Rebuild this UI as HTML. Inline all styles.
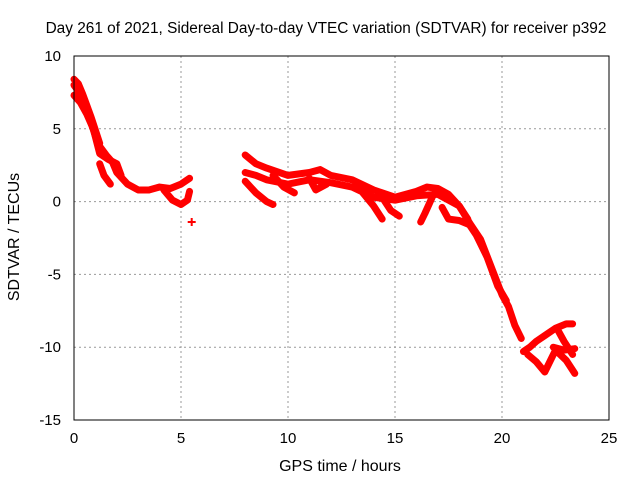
<!DOCTYPE html>
<html><head><meta charset="utf-8"><style>
body{margin:0;background:#fff;}
svg{display:block;font-family:"Liberation Sans",sans-serif;}
</style></head><body>
<svg id="chart" width="640" height="480">
<g id="grid"></g>
<g id="series"></g>
<rect x="74" y="56" width="535" height="364" fill="none" stroke="#000" stroke-width="1"/>
<g id="ticks"></g>
<text x="326" y="33" text-anchor="middle" font-size="15.4">Day 261 of 2021, Sidereal Day-to-day VTEC variation (SDTVAR) for receiver p392</text>
<text x="340" y="471" text-anchor="middle" font-size="16">GPS time / hours</text>
<text transform="translate(19,237) rotate(-90)" text-anchor="middle" font-size="16">SDTVAR / TECUs</text>
</svg>
<script>
const xTicks=[0,5,10,15,20,25];
const yTicks=[10,5,0,-5,-10,-15];
const trackMainX=[0,0.2,0.4,0.6,0.8,1.0,1.2,1.5,1.8,2.0,2.5,3,3.5,4,4.5,5,5.4];
const trackMainY=[8.0,7.6,6.9,6.2,5.4,4.5,3.8,3.2,2.7,2.0,1.2,0.8,0.8,1.0,0.9,1.2,1.6];
const trackA1X=[0,0.2,0.4,0.6,0.8,1.0,1.2];
const trackA1Y=[8.4,8.1,7.4,6.6,5.8,4.9,4.0];
const trackA2X=[0,0.3,0.6,0.9,1.2,1.6,2.0,2.2];
const trackA2Y=[7.3,6.8,6.0,5.0,3.3,2.9,2.6,1.8];
const trackA3X=[1.2,1.4,1.7];
const trackA3Y=[2.6,1.8,1.2];
const trackA4X=[4.2,4.6,5.0,5.3,5.4];
const trackA4Y=[0.8,0.1,-0.2,0.1,0.7];
const trackBX=[8,8.5,9,10,11,12,13,14,15,16,17,18,18.5,19,19.5,20,20.3,20.6,20.9];
const trackBY=[2.0,1.8,1.5,1.2,1.5,1.3,1.0,0.3,0.1,0.4,0.5,-0.3,-1.5,-2.6,-4.5,-6.4,-7.2,-8.5,-9.4];
const trackB1X=[18.3,18.8,19.3,19.8,20.2];
const trackB1Y=[-1.2,-2.3,-3.8,-5.8,-6.8];
const trackB2X=[8,8.5,9,10,11,11.5,12,13,14,15,16,16.5,17,17.5,18,18.4];
const trackB2Y=[3.2,2.6,2.3,1.8,2.0,2.2,1.8,1.5,0.8,0.3,0.7,1.0,0.9,0.5,-0.3,-1.2];
const trackB3X=[8,8.5,9,9.3];
const trackB3Y=[1.4,0.6,0.0,-0.2];
const trackB4X=[9.3,9.8,10.3];
const trackB4Y=[1.8,1.0,0.6];
const trackB5X=[11,11.3,11.8];
const trackB5Y=[1.6,0.8,1.2];
const trackB6X=[13.5,14.0,14.4];
const trackB6Y=[0.6,-0.3,-1.2];
const trackB7X=[14.4,14.8,15.2];
const trackB7Y=[0.3,-0.6,-1.0];
const trackB8X=[16.8,16.4,16.2];
const trackB8Y=[0.5,-0.8,-1.4];
const trackB9X=[17.2,17.5,18,18.5];
const trackB9Y=[-0.4,-1.2,-1.3,-1.6];
const trackC1X=[21.0,21.3,21.6,22.0,22.5,23.0,23.3];
const trackC1Y=[-10.3,-10.0,-9.6,-9.2,-8.7,-8.4,-8.4];
const trackC2X=[21.2,21.6,22.0,22.5,23.0,23.4];
const trackC2Y=[-10.5,-11.0,-11.7,-10.2,-10.9,-11.8];
const trackC3X=[22.4,22.9,23.4];
const trackC3Y=[-10.0,-10.2,-10.1];
const trackC4X=[22.6,22.9,23.3];
const trackC4Y=[-8.8,-9.6,-10.5];
const outlierX=[5.5];
const outlierY=[-1.4];
const tracks=[[trackMainX,trackMainY],[trackA1X,trackA1Y],[trackA2X,trackA2Y],[trackA3X,trackA3Y],[trackA4X,trackA4Y],[trackBX,trackBY],[trackB1X,trackB1Y],[trackB2X,trackB2Y],[trackB3X,trackB3Y],[trackB4X,trackB4Y],[trackB5X,trackB5Y],[trackB6X,trackB6Y],[trackB7X,trackB7Y],[trackB8X,trackB8Y],[trackB9X,trackB9Y],[trackC1X,trackC1Y],[trackC2X,trackC2Y],[trackC3X,trackC3Y],[trackC4X,trackC4Y]];
const L=74,R=609,T=56,B=420;
const sx=v=>L+(v-0)/25*(R-L);
const sy=v=>T+(10-v)/25*(B-T);
const NS="http://www.w3.org/2000/svg";
const grid=document.getElementById('grid'),ticks=document.getElementById('ticks'),ser=document.getElementById('series');
function mk(tag,p,a){const e=document.createElementNS(NS,tag);for(const k in a)e.setAttribute(k,a[k]);p.appendChild(e);return e;}
xTicks.forEach(v=>{
 const x=sx(v);
 if(v>0&&v<25){const g=mk('line',grid,{x1:x,x2:x,y1:T,y2:B,stroke:'#999','stroke-dasharray':'2,3'});
 
 }
 const t=mk('text',ticks,{x:x,y:443,'text-anchor':'middle','font-size':15});t.textContent=v;
 
 
});
yTicks.forEach(v=>{
 const y=sy(v);
 if(v<10&&v>-15){const g=mk('line',grid,{x1:L,x2:R,y1:y,y2:y,stroke:'#999','stroke-dasharray':'2,3'});
 
 }
 const t=mk('text',ticks,{x:61,y:y+5,'text-anchor':'end','font-size':15});t.textContent=v;
 
 
});
tracks.forEach(([xs,ys])=>{
 const pts=xs.map((v,i)=>sx(v)+','+sy(ys[i])).join(' ');
 const p=mk('polyline',ser,{points:pts,fill:'none',stroke:'#f00','stroke-width':7,'stroke-linejoin':'round','stroke-linecap':'round'});
 
 
});
outlierX.forEach((v,i)=>{
 const x=sx(v),y=sy(outlierY[i]);
 const p=mk('path',ser,{d:`M${x-4},${y}H${x+4}M${x},${y-4}V${y+4}`,stroke:'#f00','stroke-width':2});
 
 
});
</script>
</body></html>
